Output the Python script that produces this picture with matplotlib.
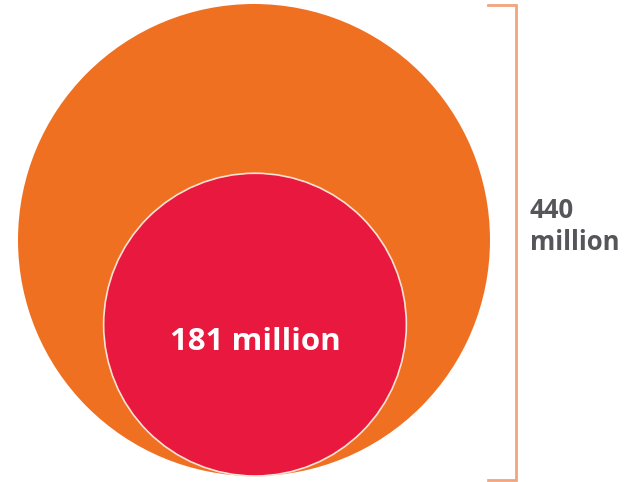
import numpy as np
import matplotlib.pyplot as plt
from matplotlib.patches import Circle

# values in millions
labels = ["440\nmillion", "181 million"]
values = [440, 181]
colors = ["#F07022", "#E8183F"]

fig = plt.figure(figsize=(6.24, 4.82), dpi=100)
ax = fig.add_axes([0, 0, 1, 1])
ax.set_xlim(0, 624)
ax.set_ylim(482, 0)
ax.set_aspect("equal")
ax.axis("off")

# radius ~ sqrt(value), circles sit on the same baseline
scale = 236 / np.sqrt(values[0])
base = 476
cx = 254
radii = [scale * np.sqrt(v) for v in values]

ax.add_patch(Circle((cx, base - radii[0]), radii[0], facecolor=colors[0], edgecolor="none"))
ax.add_patch(Circle((cx + 1, base - radii[1]), radii[1], facecolor=colors[1],
                    edgecolor="#FBE3D6", linewidth=1.2))

ax.text(cx + 1, 350, labels[1], color="white", fontsize=22.5,
        fontweight="bold", ha="center", va="baseline", family="Open Sans")

# bracket for outer value
top = base - 2 * radii[0] + 1
bx = 516
ax.plot([488, bx, bx, 488], [top, top, base + 4, base + 4], color="#F2A47C", lw=2,
        solid_joinstyle="miter")
for line, y in zip(labels[0].split("\n"), [218, 250]):
    ax.text(530, y, line, color="#55555A", fontsize=18.5, fontweight="bold",
            ha="left", va="baseline", family="Open Sans")

fig.savefig("out.png", dpi=100)
